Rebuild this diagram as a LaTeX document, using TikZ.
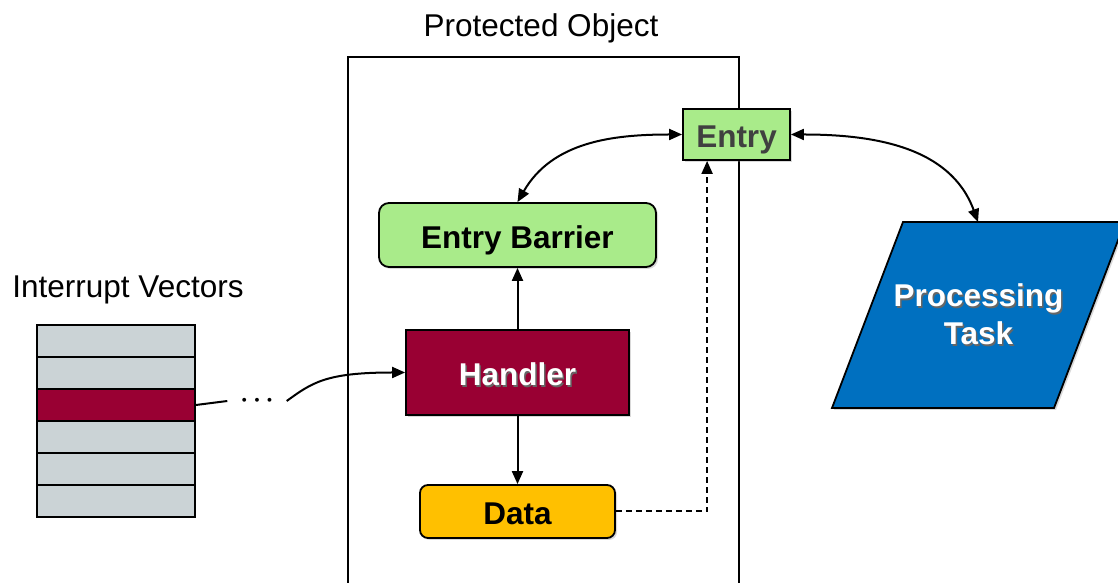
\documentclass[tikz,border=0pt]{standalone}
\usepackage{fontspec}
\setmainfont{Liberation Sans}
\usetikzlibrary{arrows.meta,shadows}
\definecolor{entrygreen}{HTML}{A9EB8A}
\definecolor{handlerred}{HTML}{990033}
\definecolor{datayellow}{HTML}{FFC000}
\definecolor{taskblue}{HTML}{0070C0}
\definecolor{vecgray}{HTML}{CBD3D6}
\definecolor{entrytext}{HTML}{404040}
\newcommand{\shtxt}[1]{\makebox[0pt][l]{\hspace{1.5pt}\raisebox{-1.5pt}{\color{black!60}#1}}#1}
\tikzset{
  lbl/.style={font=\fontsize{31.5}{38}\selectfont},
  box/.style={draw,line width=1.8pt,inner sep=0pt,font=\fontsize{31.5}{38}\selectfont\bfseries,
    text height=27pt,text depth=0pt,drop shadow={shadow xshift=2pt,shadow yshift=-2pt,opacity=.3}},
  vrow/.style={draw,line width=1.8pt,minimum width=158pt,minimum height=32pt,inner sep=0pt},
  arr/.style={line width=2pt,-{Triangle[length=13pt,width=11pt]}},
  darr/.style={line width=2pt,{Triangle[length=13pt,width=11pt]}-{Triangle[length=13pt,width=11pt]}}
}
\begin{document}
\begin{tikzpicture}[x=1pt,y=1pt]
\useasboundingbox (0,0) rectangle (1118,583);
% protected object
\node[draw,line width=1.8pt,minimum width=391pt,minimum height=536pt,inner sep=0pt] (prot) at (543.5,258) {};
\node[lbl,anchor=base] (ptitle) at (541,546) {Protected Object};
\node[box,fill=entrygreen,text=entrytext,minimum width=107pt,minimum height=51pt] (entry) at (736.5,448.5) {Entry};
\node[box,fill=entrygreen,rounded corners=10pt,minimum width=277pt,minimum height=64pt] (barrier) at (517.5,348) {Entry Barrier};
\node[box,fill=handlerred,text=white,minimum width=223pt,minimum height=85pt] (handler) at (517.5,210.5) {\shtxt{Handler}};
\node[box,fill=datayellow,rounded corners=8pt,minimum width=195pt,minimum height=53pt] (data) at (517.5,71.5) {Data};
% task
\draw[line width=1.8pt,fill=taskblue,drop shadow={shadow xshift=2pt,shadow yshift=-2pt,opacity=.3}]
  (832,175) -- (1054,175) -- (1125,361) -- (903,361) -- cycle;
\coordinate (tasktop) at (978,361);
\node[lbl,font=\fontsize{31.5}{38}\selectfont\bfseries,text=white,align=center] (task) at (978.5,268) {\shtxt{Processing}\\\shtxt{Task}};
% interrupt vectors
\node[lbl,anchor=base] (vtitle) at (128,285) {Interrupt Vectors};
\foreach \i/\c in {1/vecgray,2/vecgray,3/handlerred,4/vecgray,5/vecgray,6/vecgray}
  \node[vrow,fill=\c] (v\i) at (116,{274-32*\i}) {};
\node[minimum width=59pt,inner sep=0pt,font=\fontsize{30}{34}\selectfont\boldmath] (dots) at (257,182) {$\cdots$};
\draw[line width=2pt] (v3.east) -- (dots.west);
\draw[arr] (dots.east) .. controls +(25,18) and +(-80,0) .. (handler.west);
% connectors
\draw[arr] (handler.north) -- (barrier.south);
\draw[arr] (handler.south) -- (data.north);
\draw[darr] (entry.west) to[out=180,in=60] (barrier.north);
\draw[darr] (entry.east) to[out=0,in=110] (tasktop);
\draw[arr,dash pattern=on 6pt off 4pt] (data.east) -| ([xshift=25pt]entry.south west);
\end{tikzpicture}
\end{document}
